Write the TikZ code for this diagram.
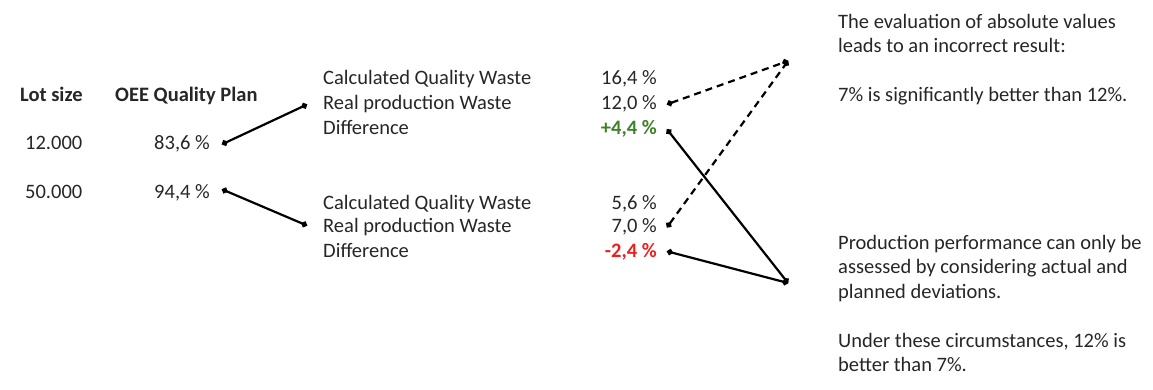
\documentclass[tikz,border=0pt]{standalone}
\usepackage{fontspec}
\setmainfont{Carlito}
\usetikzlibrary{arrows.meta}
\definecolor{txt}{RGB}{38,38,38}
\definecolor{plusgreen}{RGB}{60,130,40}
\definecolor{minusred}{RGB}{235,30,30}

\begin{document}
\begin{tikzpicture}[x=1pt, y=-1pt,
    every node/.style={font=\fontsize{20.5}{24.5}\selectfont, text=txt, inner sep=0pt},
    lbl/.style={anchor=base west},
    val/.style={anchor=base east},
    head/.style={lbl, font=\fontsize{20.5}{24.5}\selectfont\bfseries},
    note/.style={anchor=north west, align=left},
    link/.style={line width=2.2pt, {Circle[length=6pt]}-{Circle[length=6pt]}},
    hint/.style={link, dash pattern=on 7pt off 5pt}]
    \useasboundingbox (0,0) rectangle (1153,390);

    % Table head and lots
    \node[head] (lot) at (20,102) {Lot size};
    \node[head] (oee) at (115,102) {OEE Quality Plan};
    \node[lbl] (lotA) at (25,150) {12.000};
    \node[lbl] (lotB) at (25,198) {50.000};
    \node[val] (planA) at (210,150) {83,6 \%};
    \node[val] (planB) at (210,198) {94,4 \%};

    % Waste of lot 12.000
    \node[lbl] (calcA) at (323,85) {Calculated Quality Waste};
    \node[lbl] (realA) at (323,110) {Real production Waste};
    \node[lbl] (diffA) at (323,135) {Difference};
    \node[val] (calcAv) at (657,85) {16,4 \%};
    \node[val] (realAv) at (657,110) {12,0 \%};
    \node[val, text=plusgreen, font=\fontsize{20.5}{24.5}\selectfont\bfseries] (diffAv) at (657,135) {+4,4 \%};

    % Waste of lot 50.000
    \node[lbl] (calcB) at (323,209) {Calculated Quality Waste};
    \node[lbl] (realB) at (323,233) {Real production Waste};
    \node[lbl] (diffB) at (323,257) {Difference};
    \node[val] (calcBv) at (657,209) {5,6 \%};
    \node[val] (realBv) at (657,233) {7,0 \%};
    \node[val, text=minusred, font=\fontsize{20.5}{24.5}\selectfont\bfseries] (diffBv) at (657,257) {-2,4 \%};

    % Remarks
    \node[note] (absnote) at (838,14) {The evaluation of absolute values\\
        leads to an incorrect result:\\[24.5pt]
        7\% is significantly better than 12\%.};
    \node[note] (devnote) at (838,235) {Production performance can only be\\
        assessed by considering actual and\\
        planned deviations.\\[24.5pt]
        Under these circumstances, 12\% is\\
        better than 7\%.};

    % Connector ends
    \coordinate (jA) at ([xshift=12pt]planA.east);
    \coordinate (jB) at ([xshift=12pt, yshift=3pt]planB.east);
    \coordinate (kA) at ([xshift=-16pt]realA.west);
    \coordinate (kB) at ([xshift=-16pt, yshift=2pt]realB.west);
    \coordinate (rA) at ([xshift=10pt]realAv.east);
    \coordinate (dA) at ([xshift=10pt]diffAv.east);
    \coordinate (rB) at ([xshift=10pt]realBv.east);
    \coordinate (dB) at ([xshift=10pt]diffBv.east);
    \coordinate (wrong) at (788,61);
    \coordinate (right) at (788,283);

    \draw[link] (jA) -- (kA);
    \draw[link] (jB) -- (kB);
    \draw[hint] (rA) -- (wrong);
    \draw[hint] (rB) -- (wrong);
    \draw[link] (dA) -- (right);
    \draw[link] (dB) -- (right);
\end{tikzpicture}
\end{document}
